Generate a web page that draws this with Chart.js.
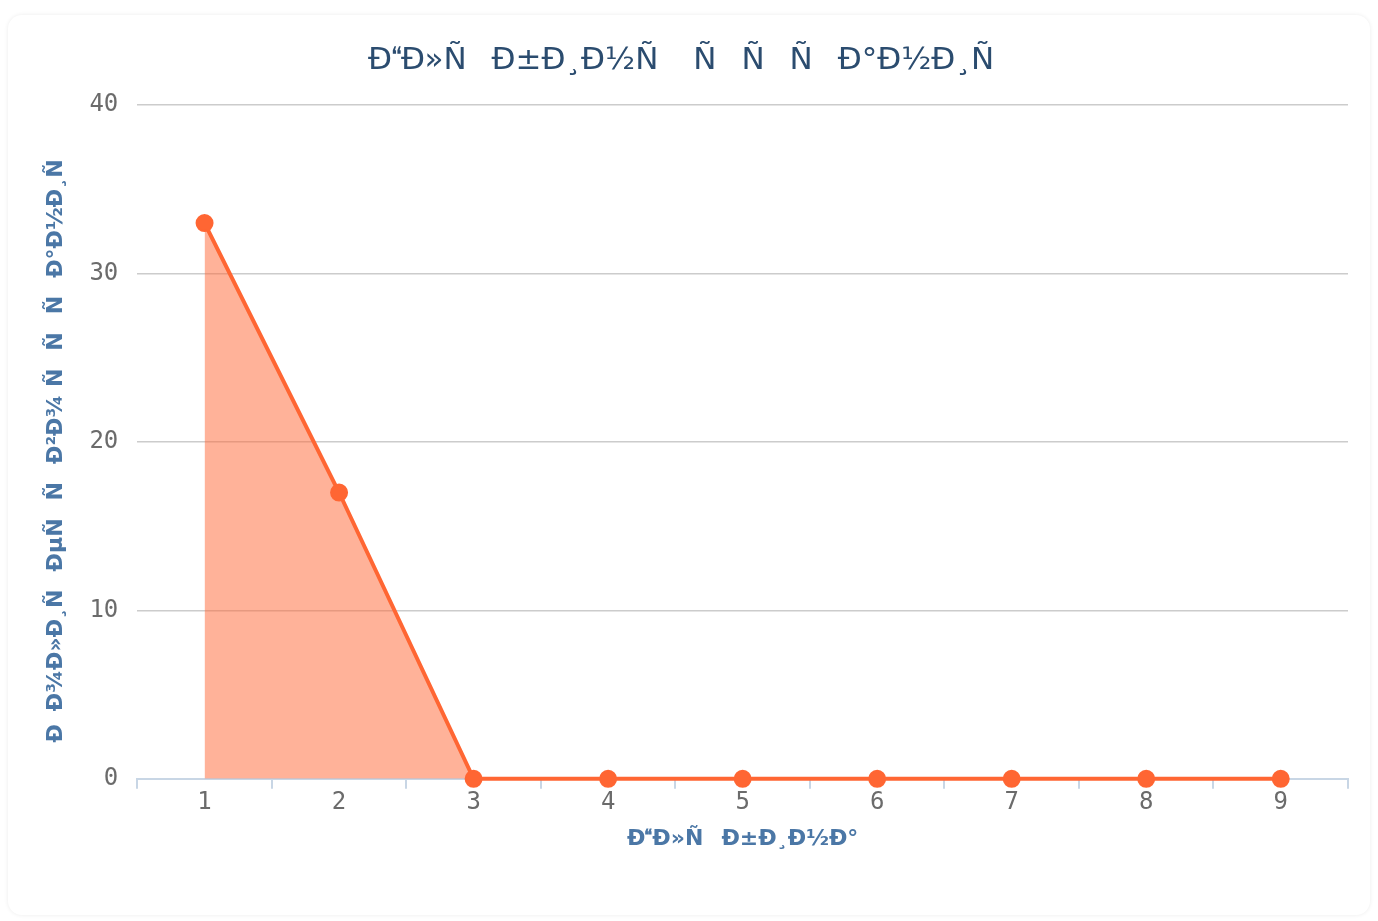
<!DOCTYPE html>
<html lang="ru">
<head>
    <meta charset="UTF-8">
    <title>Chart</title>
    <script src="https://cdn.jsdelivr.net/npm/chart.js"></script>
    <style>
        html, body { margin: 0; padding: 0; background: #fff; }
        .card {
            position: absolute; left: 8px; top: 15px; width: 1362px; height: 900px;
            border-radius: 14px; background: #fff;
            box-shadow: 0 0 4px rgba(0,0,0,0.08);
        }
        .wrap { position: absolute; left: 0; top: 0; width: 1378px; height: 921px; }
    </style>
</head>
<body>
<div class="card"></div>
<div class="wrap"><canvas id="depthChart"></canvas></div>

<script>
    // text as it appears in the picture (UTF-8 read as Latin-1)
    const chartTitle = 'Ð\u0093Ð»Ñ\u0083Ð±Ð¸Ð½Ñ\u008b Ñ\u0081Ñ\u0082Ñ\u0080Ð°Ð½Ð¸Ñ\u0086';
    const xTitle = 'Ð\u0093Ð»Ñ\u0083Ð±Ð¸Ð½Ð°';
    const yTitle = 'Ð\u009aÐ¾Ð»Ð¸Ñ\u0087ÐµÑ\u0081Ñ\u0082Ð²Ð¾ Ñ\u0081Ñ\u0082Ñ\u0080Ð°Ð½Ð¸Ñ\u0086';

    const depths = ['1', '2', '3', '4', '5', '6', '7', '8', '9'];
    const pageCounts = [33, 17, 0, 0, 0, 0, 0, 0, 0];

    const ctx = document.getElementById('depthChart').getContext('2d');
    new Chart(ctx, {
        type: 'line',
        data: {
            labels: depths,
            datasets: [{
                label: yTitle,
                data: pageCounts,
                borderColor: '#ff6633',
                backgroundColor: 'rgba(255,102,51,0.5)',
                pointBackgroundColor: '#ff6633',
                pointBorderColor: '#ff6633',
                pointRadius: 8,
                pointBorderWidth: 2,
                borderWidth: 4,
                tension: 0,
                fill: 'origin',
                clip: false
            }]
        },
        options: {
            responsive: true,
            maintainAspectRatio: false,
            animation: false,
            layout: { padding: { top: 42, left: 39, right: 30, bottom: 65 } },
            plugins: {
                legend: { display: false },
                tooltip: { enabled: false },
                title: {
                    display: true,
                    text: chartTitle,
                    color: '#2b4c6f',
                    font: { family: 'DejaVu Sans', size: 31, weight: 'normal' },
                    padding: { top: 0, bottom: 26 }
                }
            },
            scales: {
                x: {
                    offset: true,
                    grid: {
                        offset: true,
                        drawOnChartArea: false,
                        color: '#c8d6e5',
                        tickLength: 10,
                        lineWidth: 2
                    },
                    border: { color: '#c8d6e5', width: 2 },
                    ticks: {
                        color: '#6b6b6b',
                        font: { family: 'DejaVu Sans Mono', size: 24 },
                        padding: 0
                    },
                    title: {
                        display: true,
                        text: xTitle,
                        color: '#4b77a6',
                        font: { family: 'DejaVu Sans', size: 22, weight: 'bold' },
                        padding: { top: 8 }
                    }
                },
                y: {
                    min: 0,
                    max: 40,
                    ticks: {
                        stepSize: 10,
                        color: '#6b6b6b',
                        font: { family: 'DejaVu Sans Mono', size: 24 },
                        padding: 19
                    },
                    grid: { color: '#cccccc', lineWidth: 1.5, drawTicks: false },
                    border: { display: false },
                    title: {
                        display: true,
                        text: yTitle,
                        color: '#4b77a6',
                        font: { family: 'DejaVu Sans', size: 22, weight: 'bold' },
                        padding: { top: 4, bottom: 1 }
                    }
                }
            }
        }
    });
</script>
</body>
</html>
